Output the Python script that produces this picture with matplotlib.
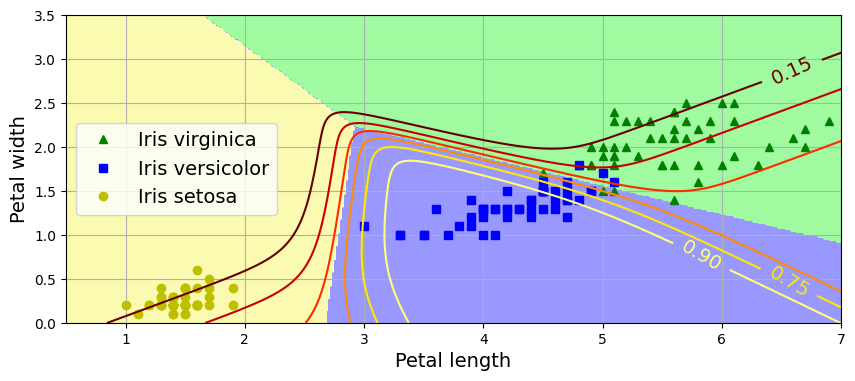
import numpy as np
import matplotlib
matplotlib.use("Agg")
import matplotlib.pyplot as plt
from matplotlib.colors import ListedColormap

# petal length / petal width (iris points)
setosa_len = [1.4, 1.4, 1.3, 1.5, 1.4, 1.7, 1.4, 1.5, 1.4, 1.5,
              1.5, 1.6, 1.4, 1.1, 1.2, 1.5, 1.3, 1.4, 1.7, 1.5,
              1.7, 1.5, 1.0, 1.7, 1.9, 1.6, 1.6, 1.5, 1.4, 1.6,
              1.6, 1.5, 1.5, 1.4, 1.5, 1.2, 1.3, 1.4, 1.3, 1.5,
              1.3, 1.3, 1.3, 1.6, 1.9, 1.4, 1.6, 1.4, 1.5, 1.4]
setosa_wid = [0.2, 0.2, 0.2, 0.2, 0.2, 0.4, 0.3, 0.2, 0.2, 0.1,
              0.2, 0.2, 0.1, 0.1, 0.2, 0.4, 0.4, 0.3, 0.3, 0.3,
              0.2, 0.4, 0.2, 0.5, 0.2, 0.2, 0.4, 0.2, 0.2, 0.2,
              0.2, 0.4, 0.1, 0.2, 0.2, 0.2, 0.2, 0.1, 0.2, 0.2,
              0.3, 0.3, 0.2, 0.6, 0.4, 0.3, 0.2, 0.2, 0.2, 0.2]
versi_len = [4.7, 4.5, 4.9, 4.0, 4.6, 4.5, 4.7, 3.3, 4.6, 3.9,
             3.5, 4.2, 4.0, 4.7, 3.6, 4.4, 4.5, 4.1, 4.5, 3.9,
             4.8, 4.0, 4.9, 4.7, 4.3, 4.4, 4.8, 5.0, 4.5, 3.5,
             3.8, 3.7, 3.9, 5.1, 4.5, 4.5, 4.7, 4.4, 4.1, 4.0,
             4.4, 4.6, 4.0, 3.3, 4.2, 4.2, 4.2, 4.3, 3.0, 4.1]
versi_wid = [1.4, 1.5, 1.5, 1.3, 1.5, 1.3, 1.6, 1.0, 1.3, 1.4,
             1.0, 1.5, 1.0, 1.4, 1.3, 1.4, 1.5, 1.0, 1.5, 1.1,
             1.8, 1.3, 1.5, 1.2, 1.3, 1.4, 1.4, 1.7, 1.5, 1.0,
             1.1, 1.0, 1.2, 1.6, 1.5, 1.6, 1.5, 1.3, 1.3, 1.3,
             1.2, 1.4, 1.2, 1.0, 1.3, 1.2, 1.3, 1.3, 1.1, 1.3]
virg_len = [6.0, 5.1, 5.9, 5.6, 5.8, 6.6, 4.5, 6.3, 5.8, 6.1,
            5.1, 5.3, 5.5, 5.0, 5.1, 5.3, 5.5, 6.7, 6.9, 5.0,
            5.7, 4.9, 6.7, 4.9, 5.7, 6.0, 4.8, 4.9, 5.6, 5.8,
            6.1, 6.4, 5.6, 5.1, 5.6, 6.1, 5.6, 5.5, 4.8, 5.4,
            5.6, 5.1, 5.1, 5.9, 5.7, 5.2, 5.0, 5.2, 5.4, 5.1]
virg_wid = [2.5, 1.9, 2.1, 1.8, 2.2, 2.1, 1.7, 1.8, 1.8, 2.5,
            2.0, 1.9, 2.1, 2.0, 2.4, 2.3, 1.8, 2.2, 2.3, 1.5,
            2.3, 2.0, 2.0, 1.8, 2.1, 1.8, 1.8, 1.8, 2.1, 1.6,
            1.9, 2.0, 2.2, 1.5, 1.4, 2.3, 2.4, 1.8, 1.8, 2.1,
            2.4, 2.3, 1.9, 2.3, 2.5, 2.3, 1.9, 2.0, 2.3, 1.8]

# one-vs-rest logistic regression fitted on the points (L2, C=30)
X = np.c_[setosa_len + versi_len + virg_len, setosa_wid + versi_wid + virg_wid]
y = np.array([0] * 50 + [1] * 50 + [2] * 50)
C = 30.0
Xb = np.c_[X, np.ones(len(X))]


def fit_binary(t):
    pen = np.array([1.0, 1.0, 0.0])
    w = np.zeros(3)
    for it in range(100):
        p = 1 / (1 + np.exp(-(Xb @ w)))
        g = Xb.T @ (p - t) + pen * w / C
        H = (Xb * (p * (1 - p))[:, None]).T @ Xb + np.diag(pen / C) + 1e-10 * np.eye(3)
        w = w - np.linalg.solve(H, g)
        if np.abs(g).max() < 1e-10:
            break
    return w


W = np.array([fit_binary((y == k).astype(float)) for k in range(3)]).T

x0, x1 = np.meshgrid(np.linspace(0, 8, 500), np.linspace(0, 3.5, 200))
X_new = np.c_[x0.ravel(), x1.ravel(), np.ones(x0.size)]
s = 1 / (1 + np.exp(-(X_new @ W)))
y_proba = s / s.sum(axis=1, keepdims=True)
zz1 = y_proba[:, 1].reshape(x0.shape)
zz = y_proba.argmax(axis=1).reshape(x0.shape)

fig = plt.figure(figsize=(8.55, 3.81), dpi=100)
ax = fig.add_axes([0.0772, 0.1522, 0.9064, 0.8084])

ax.plot(virg_len, virg_wid, "g^", label="Iris virginica")
ax.plot(versi_len, versi_wid, "bs", label="Iris versicolor")
ax.plot(setosa_len, setosa_wid, "yo", label="Iris setosa")

custom_cmap = ListedColormap(["#fafab0", "#9898ff", "#a0faa0"])
ax.contourf(x0, x1, zz, cmap=custom_cmap)
contour = ax.contour(x0, x1, zz1, cmap="hot")
# label spots near where the reference shows them
ax.clabel(contour, inline=1, fontsize=14,
          manual=[(6.57, 2.91), (5.80, 0.70), (6.53, 0.40)])
ax.set_xlabel("Petal length", fontsize=14)
ax.set_ylabel("Petal width", fontsize=14)
ax.legend(loc="center left", fontsize=14)
ax.axis([0.5, 7, 0, 3.5])
ax.grid()
fig.savefig("out.png", dpi=100)
